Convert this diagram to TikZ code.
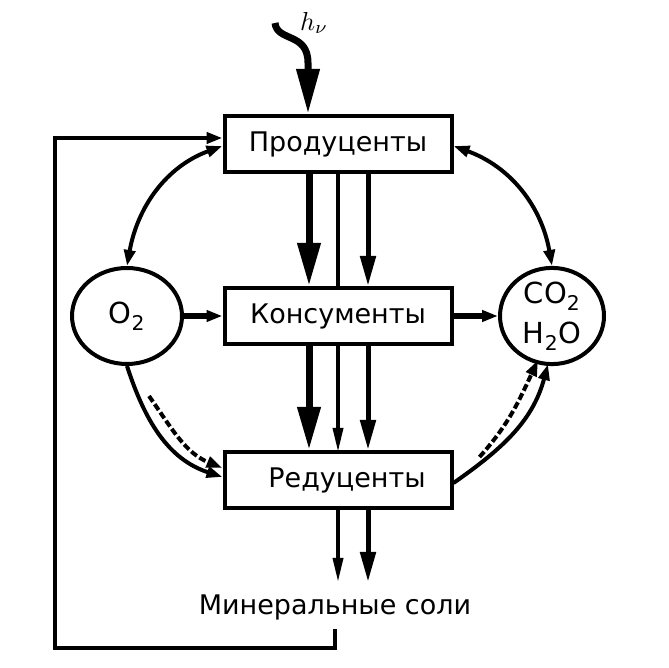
\documentclass[tikz,border=0pt]{standalone}
\usepackage{graphicx}
\usepackage{fontspec}
\setmainfont{DejaVu Sans}
\usetikzlibrary{arrows.meta,shapes.geometric,calc}
\tikzset{
	box/.style={draw, line width=4pt, fill=white, minimum width=227pt, minimum height=56pt, inner sep=0pt, font=\fontsize{27}{30}\selectfont},
	gas/.style={draw, ellipse, line width=4pt, fill=white, inner sep=0pt, align=center, font=\fontsize{29}{40}\selectfont},
	flow big/.style={line width=7pt, -{Triangle[length=43pt,width=22pt]}},
	flow mid/.style={line width=5pt, -{Triangle[length=30pt,width=15pt]}},
	flow thin/.style={line width=3.5pt, -{Triangle[length=24pt,width=10pt]}},
	link/.style={line width=4pt, -{Triangle[length=16pt,width=11pt]}},
	twoway/.style={line width=4pt, {Triangle[length=16pt,width=11pt]}-{Triangle[length=16pt,width=11pt]}},
	dashlink/.style={line width=4pt, dash pattern=on 7pt off 3pt, -{Triangle[length=16pt,width=11pt]}},
}
\begin{document}
\begin{tikzpicture}[x=1pt,y=1pt]
	\useasboundingbox (0,0) rectangle (668,668);
	% middle line runs behind the consumers box
	\coordinate (mid top) at (338,495);
	\draw[flow thin] (mid top) -- (338,216);
	\node[box] (prod) at (338,524) {Продуценты};
	\node[box] (kons) at (338,352) {Консументы};
	\node[box] (red) at (338,188) {\hspace*{18pt}Редуценты};
	\node[gas, minimum width=110pt, minimum height=96pt] (o2) at (127,352) {O\textsubscript{2}};
	\node[gas, minimum width=104pt, minimum height=96pt] (co2) at (552,352) {CO\textsubscript{2}\\H\textsubscript{2}O};
	\node[font=\fontsize{27}{30}\selectfont] (salt) at (335,61) {Минеральные соли};
	% light
	\coordinate (sun) at (275,645);
	\node (hv) at (314,645) {\scalebox{2.6}{$h_\nu$}};
	\draw[line width=7pt, -{Triangle[length=45pt,width=22pt]}] (sun) .. controls (277,626) and (308,636) .. (308,605) -- ([xshift=-30pt]prod.north);
	% vertical flows
	\draw[flow big] ([xshift=-29pt]prod.south) -- ([xshift=-29pt]kons.north);
	\draw[flow mid] ([xshift=30pt]prod.south) -- ([xshift=30pt]kons.north);
	\draw[flow big] ([xshift=-29pt]kons.south) -- ([xshift=-29pt]red.north);
	\draw[flow mid] ([xshift=30pt]kons.south) -- ([xshift=30pt]red.north);
	\draw[flow thin] (red.south) -- (338,86);
	\draw[flow mid] ([xshift=30pt]red.south) -- (368,86);
	% gases
	\draw[link, line width=5.5pt] (o2) -- (kons);
	\draw[link, line width=5.5pt] (kons) -- (co2);
	\draw[twoway] ([yshift=-2pt]prod.west) to[out=200,in=80] (o2.north);
	\draw[twoway] ([yshift=-2pt]prod.east) to[out=-20,in=100] (co2.north);
	\draw[link] (o2.south) to[out=-72,in=162] ([yshift=3pt]red.west);
	\draw[dashlink] ($(o2.south)+(22,-30)$) to[out=-55,in=158] ([yshift=12pt]red.west);
	\draw[link] ([yshift=-3pt]red.east) to[out=35,in=-105] ($(co2.south)+(-4,2)$);
	\draw[dashlink] ($(red.east)+(26,23)$) to[out=48,in=-115] ($(co2.south)+(-14,6)$);
	% return of the salts
	\coordinate (corner) at (55,20);
	\draw[line width=4pt, -{Triangle[length=16pt,width=11pt]}] ([yshift=-6pt]salt.south) |- (corner) |- ([yshift=6pt]prod.west);
\end{tikzpicture}
\end{document}
